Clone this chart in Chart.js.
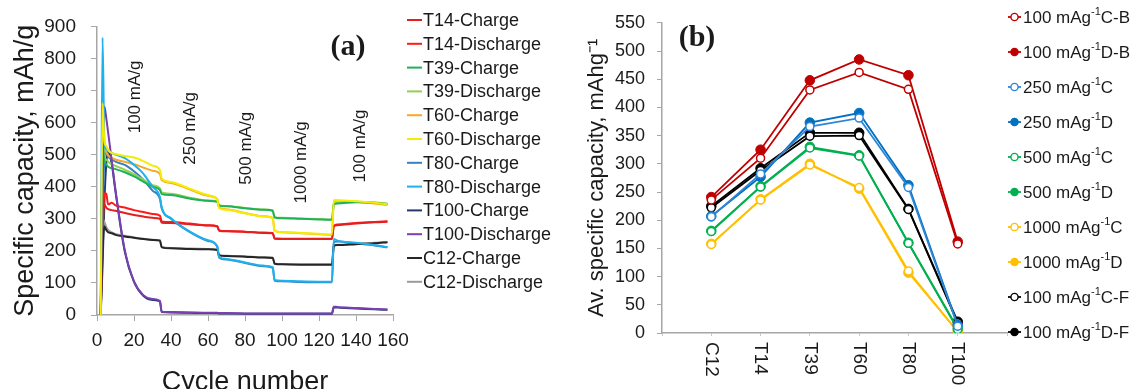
<!DOCTYPE html>
<html>
<head>
<meta charset="utf-8">
<title>Specific capacity</title>
<script src="https://cdn.jsdelivr.net/npm/chart.js@4.4.1/dist/chart.umd.min.js"></script>
<style>
  html, body { margin: 0; padding: 0; background: #fff; overflow: hidden; }
  #wrap { position: relative; width: 1143px; height: 389px; }
  #capa { position: absolute; left: 0; top: 0; }
  #capb { position: absolute; left: 570px; top: 0; }
</style>
</head>
<body>
<div id="wrap">
  <canvas id="capa" width="570" height="389"></canvas>
  <canvas id="capb" width="573" height="389"></canvas>
</div>
<script>
// ---- panel (a): specific capacity vs cycle number ----
var cycles = [2, 3, 4, 5, 6, 8, 10, 15, 20, 25, 30, 34, 35, 40, 50, 60, 65, 66, 70, 80, 90, 95, 96, 100, 110, 120, 127, 128, 130, 140, 150, 157];

var t14Charge = [0, 300, 345, 335, 330, 327, 325, 318, 312, 307, 303, 300, 288, 287, 283, 279, 276, 263, 261, 259, 256, 255, 238, 237, 237, 237, 237, 276, 280, 285, 289, 291];
var t14Discharge = [0, 240, 380, 378, 345, 350, 342, 335, 327, 321, 315, 310, 292, 290, 285, 280, 277, 264, 262, 260, 257, 256, 239, 238, 238, 238, 238, 278, 282, 287, 290, 292];
var t39Charge = [0, 520, 480, 470, 462, 458, 455, 445, 432, 416, 400, 390, 377, 374, 363, 356, 353, 341, 339, 333, 328, 325, 304, 302, 300, 298, 297, 345, 348, 352, 350, 346];
var t39Discharge = [0, 610, 495, 485, 478, 470, 465, 453, 439, 422, 405, 395, 382, 378, 366, 357, 354, 342, 340, 334, 329, 326, 305, 303, 301, 299, 298, 346, 349, 353, 351, 347];
var t60Charge = [0, 560, 520, 508, 498, 490, 485, 478, 470, 460, 450, 440, 420, 412, 392, 372, 362, 335, 330, 318, 308, 303, 262, 258, 255, 252, 250, 356, 356, 353, 348, 343];
var t60Discharge = [0, 660, 540, 527, 515, 505, 502, 496, 491, 480, 466, 452, 425, 415, 394, 374, 360, 333, 328, 317, 307, 302, 262, 258, 256, 253, 251, 358, 358, 355, 350, 345];
var t80Charge = [0, 300, 490, 510, 495, 485, 478, 468, 448, 422, 388, 362, 332, 300, 259, 231, 213, 179, 173, 162, 152, 147, 107, 105, 103, 102, 102, 228, 229, 223, 217, 211];
var t80Discharge = [0, 865, 540, 518, 512, 505, 500, 489, 468, 441, 400, 368, 335, 302, 261, 233, 215, 181, 175, 164, 154, 149, 109, 107, 105, 104, 104, 237, 232, 225, 218, 212];
var t100Charge = [0, 150, 350, 470, 510, 470, 385, 198, 103, 60, 47, 42, 9, 8, 7, 6, 6, 5, 5, 4, 4, 4, 4, 4, 4, 4, 4, 24, 23, 20, 18, 16];
var t100Discharge = [0, 400, 650, 615, 570, 480, 390, 203, 105, 62, 50, 44, 10, 9, 8, 7, 7, 6, 6, 5, 5, 5, 5, 5, 5, 5, 5, 26, 25, 22, 19, 17];
var c12Charge = [0, 200, 276, 265, 258, 255, 250, 245, 241, 237, 234, 232, 211, 208, 206, 205, 203, 186, 184, 182, 179, 178, 160, 158, 157, 157, 157, 215, 218, 221, 224, 227];
var c12Discharge = [0, 300, 290, 275, 265, 258, 253, 247, 242, 238, 235, 233, 212, 209, 207, 206, 204, 187, 185, 183, 180, 179, 161, 159, 158, 158, 158, 216, 219, 222, 225, 228];

var rateNotes = ['100 mA/g', '250 mA/g', '500 mA/g', '1000 mA/g', '100 mA/g'];

// ---- panel (b): average capacity per material ----
var materials = ['C12', 'T14', 'T39', 'T60', 'T80', 'T100'];
var c100B = [236, 310, 431, 462, 432, 158];
var d100B = [241, 325, 448, 485, 457, 162];
var c250 = [206, 282, 366, 381, 258, 12];
var d250 = [207, 277, 373, 390, 262, 14];
var c500 = [180, 259, 328, 314, 159, 6];
var d500 = [181, 260, 330, 315, 160, 8];
var c1000 = [157, 236, 298, 258, 110, 2];
var d1000 = [158, 237, 300, 256, 107, 3];
var c100F = [222, 288, 349, 350, 219, 18];
var d100F = [225, 292, 355, 355, 220, 20];

var SANS = '"Liberation Sans", Arial, sans-serif';
Chart.defaults.font.family = SANS;
Chart.defaults.color = '#1a1a1a';
var AXIS = '#a6a6a6';

function cyclePoints(values) {
  return values.map(function (v, i) { return { x: cycles[i], y: v }; });
}

function curve(label, values, color, order) {
  return {
    label: label,
    data: cyclePoints(values),
    borderColor: color,
    backgroundColor: color,
    borderWidth: 2,
    pointRadius: 0,
    cubicInterpolationMode: 'monotone',
    order: order === undefined ? 1 : order
  };
}

var panelA = {
  id: 'panelA',
  afterDraw: function (chart) {
    var ctx = chart.ctx;
    var xs = chart.scales.x, ys = chart.scales.y;
    ctx.save();
    // legend
    ctx.font = '18px ' + SANS;
    ctx.textBaseline = 'middle';
    ctx.textAlign = 'left';
    chart.data.datasets.forEach(function (ds, i) {
      var y = 20 + i * 23.8;
      ctx.strokeStyle = ds.borderColor;
      ctx.lineWidth = 2;
      ctx.beginPath();
      ctx.moveTo(407, y);
      ctx.lineTo(422, y);
      ctx.stroke();
      ctx.fillStyle = '#1a1a1a';
      ctx.fillText(ds.label, 423, y + 1);
    });

    // current density notes, placed in data units
    var at = [[20.8, 680], [50.3, 582], [80.5, 520], [110.5, 476], [142.4, 527]];
    ctx.font = '17px ' + SANS;
    ctx.textAlign = 'center';
    rateNotes.forEach(function (txt, i) {
      ctx.save();
      ctx.translate(xs.getPixelForValue(at[i][0]), ys.getPixelForValue(at[i][1]));
      ctx.rotate(-Math.PI / 2);
      ctx.fillText(txt, 0, 0);
      ctx.restore();
    });

    ctx.font = 'bold 30px "Liberation Serif", "Times New Roman", serif';
    ctx.textAlign = 'center';
    ctx.fillText('(a)', 348, 47);
    ctx.restore();
  }
};

new Chart(document.getElementById('capa'), {
  type: 'line',
  data: {
    datasets: [
      curve('T14-Charge', t14Charge, '#e3201f'),
      curve('T14-Discharge', t14Discharge, '#ff1a1a'),
      curve('T39-Charge', t39Charge, '#1fb15a'),
      curve('T39-Discharge', t39Discharge, '#92d050'),
      curve('T60-Charge', t60Charge, '#f9a825'),
      curve('T60-Discharge', t60Discharge, '#f5ec00', 0),
      curve('T80-Charge', t80Charge, '#3a7fc1'),
      curve('T80-Discharge', t80Discharge, '#1db2ee', 0),
      curve('T100-Charge', t100Charge, '#24396f', 2),
      curve('T100-Discharge', t100Discharge, '#7a3fb0', 0),
      curve('C12-Charge', c12Charge, '#262626', 0),
      curve('C12-Discharge', c12Discharge, '#9b9b9b')
    ]
  },
  options: {
    responsive: false,
    animation: false,
    layout: { padding: { top: 22, right: 177, bottom: 0, left: 0 } },
    plugins: { legend: { display: false }, tooltip: { enabled: false } },
    scales: {
      x: {
        type: 'linear',
        min: 0,
        max: 160,
        afterFit: function (s) { s.height = 74; },
        ticks: { stepSize: 20, padding: 8, maxRotation: 0, autoSkip: false, font: { size: 19 } },
        grid: { drawOnChartArea: false, tickLength: 6, color: AXIS },
        border: { color: AXIS, width: 1.5 },
        title: { display: true, text: 'Cycle number', font: { size: 27, lineHeight: 1 }, padding: { top: 0, bottom: -7 } }
      },
      y: {
        min: 0,
        max: 900,
        afterFit: function (s) { s.width = 97; },
        ticks: { stepSize: 100, padding: 15, font: { size: 19 } },
        grid: { drawOnChartArea: false, tickLength: 6, color: AXIS },
        border: { color: AXIS, width: 1.5 },
        title: { display: true, text: 'Specific capacity, mAh/g', font: { size: 27, lineHeight: 1 }, padding: { top: 12, bottom: 0 } }
      }
    }
  },
  plugins: [panelA]
});

// ---- panel (b) ----
function matPoints(values) {
  return values.map(function (v, i) { return { x: i + 1, y: v }; });
}

function series(label, values, color, open) {
  return {
    label: label,
    data: matPoints(values),
    borderColor: color,
    backgroundColor: color,
    borderWidth: 1.8,
    pointRadius: open ? 4 : 4.8,
    pointBorderWidth: open ? 1.5 : 1,
    pointBackgroundColor: open ? '#ffffff' : color,
    pointBorderColor: color,
    tension: 0,
    open: open
  };
}

var panelB = {
  id: 'panelB',
  afterDraw: function (chart) {
    var ctx = chart.ctx;
    var xs = chart.scales.x;
    ctx.save();
    // category names, turned to read downward
    ctx.font = '19px ' + SANS;
    ctx.fillStyle = '#1a1a1a';
    ctx.textAlign = 'left';
    ctx.textBaseline = 'middle';
    materials.forEach(function (m, i) {
      ctx.save();
      ctx.translate(xs.getPixelForValue(i + 1), 342);
      ctx.rotate(Math.PI / 2);
      ctx.fillText(m, 0, 0);
      ctx.restore();
    });

    // legend
    chart.data.datasets.forEach(function (ds, i) {
      var y = 17 + i * 35;
      ctx.strokeStyle = ds.borderColor;
      ctx.lineWidth = 1.8;
      ctx.beginPath();
      ctx.moveTo(438, y);
      ctx.lineTo(451, y);
      ctx.stroke();
      ctx.beginPath();
      ctx.arc(444.5, y, 3.6, 0, Math.PI * 2);
      ctx.fillStyle = ds.open ? '#ffffff' : ds.borderColor;
      ctx.fill();
      ctx.lineWidth = 1.4;
      ctx.stroke();

      var parts = ds.label.split('\u207B\u00B9');
      var x = 453;
      ctx.fillStyle = '#1a1a1a';
      ctx.font = '17px ' + SANS;
      ctx.fillText(parts[0], x, y + 1);
      x += ctx.measureText(parts[0]).width;
      ctx.font = '11px ' + SANS;
      ctx.fillText('-1', x, y - 5);
      x += ctx.measureText('-1').width;
      ctx.font = '17px ' + SANS;
      ctx.fillText(parts[1], x, y + 1);
    });

    ctx.font = 'bold 30px "Liberation Serif", "Times New Roman", serif';
    ctx.textAlign = 'center';
    ctx.fillText('(b)', 127, 38);
    ctx.restore();
  }
};

new Chart(document.getElementById('capb'), {
  type: 'line',
  data: {
    datasets: [
      series('100 mAg\u207B\u00B9C-B', c100B, '#c00000', true),
      series('100 mAg\u207B\u00B9D-B', d100B, '#c00000', false),
      series('250 mAg\u207B\u00B9C', c250, '#2e86d6', true),
      series('250 mAg\u207B\u00B9D', d250, '#0070c0', false),
      series('500 mAg\u207B\u00B9C', c500, '#00b050', true),
      series('500 mAg\u207B\u00B9D', d500, '#00b050', false),
      series('1000 mAg\u207B\u00B9C', c1000, '#ffc000', true),
      series('1000 mAg\u207B\u00B9D', d1000, '#ffc000', false),
      series('100 mAg\u207B\u00B9C-F', c100F, '#000000', true),
      series('100 mAg\u207B\u00B9D-F', d100F, '#000000', false)
    ]
  },
  options: {
    responsive: false,
    animation: false,
    layout: { padding: { top: 10, right: 136, bottom: 0, left: 0 } },
    plugins: { legend: { display: false }, tooltip: { enabled: false } },
    scales: {
      x: {
        type: 'linear',
        min: 0,
        max: 7,
        afterFit: function (s) { s.height = 56; },
        ticks: { display: false, stepSize: 1 },
        grid: { drawOnChartArea: false, tickLength: 3, color: '#c8c8c8' },
        border: { color: AXIS, width: 1.5 }
      },
      y: {
        min: 0,
        max: 550,
        afterFit: function (s) { s.width = 92; },
        ticks: { stepSize: 50, padding: 12, font: { size: 18 } },
        grid: { drawOnChartArea: false, tickLength: 5, color: AXIS },
        border: { color: AXIS, width: 1.5 },
        title: { display: true, text: 'Av. specific capacity, mAhg\u207B\u00B9', font: { size: 22, lineHeight: 1 }, padding: { top: 16, bottom: 0 } }
      }
    }
  },
  plugins: [panelB]
});
</script>
</body>
</html>
